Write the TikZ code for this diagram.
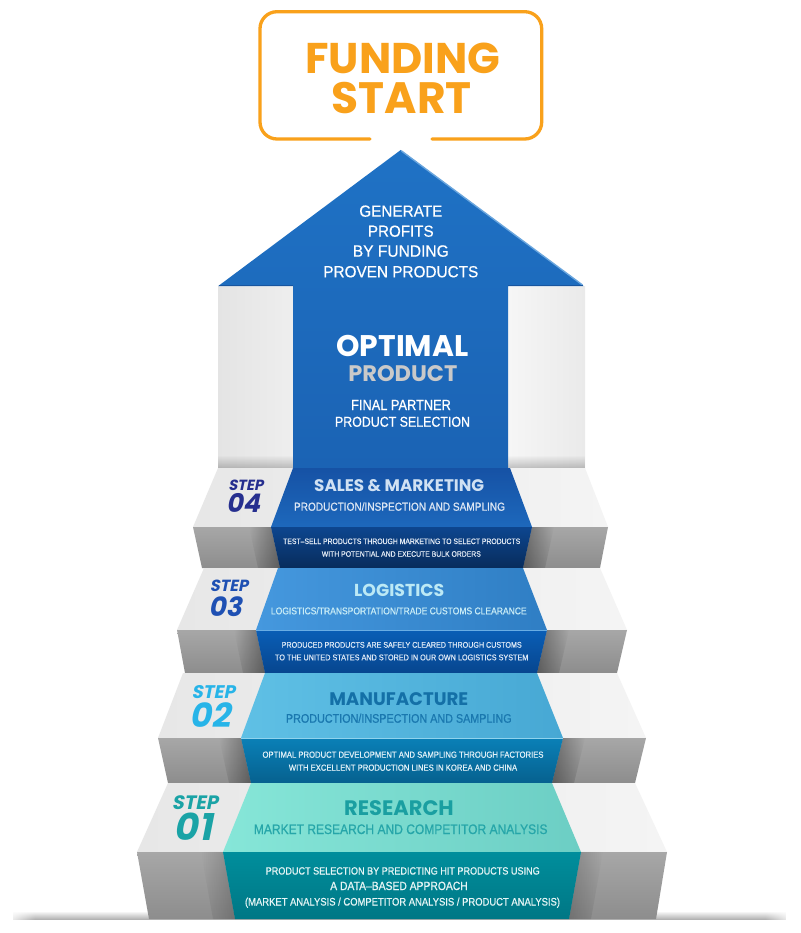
\documentclass[tikz,border=0pt]{standalone}
\usepackage{fontspec}
\usepackage{graphicx}
\usetikzlibrary{fadings}
\setmainfont{Liberation Sans}
\newfontfamily\nsf{Liberation Sans}[FakeStretch=0.87,FakeBold=0.7]
\newfontfamily\asf{Liberation Sans}[FakeStretch=0.95,FakeBold=0.5]
\newfontfamily\pop{Poppins}
\newfontfamily\popsl{Poppins}[FakeSlant=0.2]
\newcommand\fitw[2]{\resizebox{#1pt}{!}{#2}}
\definecolor{orng}{HTML}{F9A11B}
\definecolor{arrT}{HTML}{1F72C5}
\definecolor{arrB}{HTML}{1B63B4}
\definecolor{arrhi}{HTML}{6AA6DE}
\definecolor{arrdk}{HTML}{17559F}
\definecolor{colL1}{HTML}{E4E4E4}
\definecolor{colL2}{HTML}{EEEEEE}
\definecolor{colR1}{HTML}{F6F6F6}
\definecolor{colR2}{HTML}{EAEAEA}
\definecolor{gtl}{HTML}{E7E7E7}
\definecolor{gtr}{HTML}{F4F4F4}
\definecolor{gf1}{HTML}{A7A7A7}
\definecolor{gf2}{HTML}{8D8D8D}
\definecolor{shd}{HTML}{A9A9A9}
\definecolor{s4t1}{HTML}{1652A5}
\definecolor{s4t2}{HTML}{1D68BC}
\definecolor{s4f1}{HTML}{0D468F}
\definecolor{s4f2}{HTML}{082C5C}
\definecolor{s3t1}{HTML}{4598DE}
\definecolor{s3t2}{HTML}{2F7EC4}
\definecolor{s3f1}{HTML}{0A5EB6}
\definecolor{s3f2}{HTML}{07468F}
\definecolor{s2t1}{HTML}{5FC0E5}
\definecolor{s2t2}{HTML}{47A8D4}
\definecolor{s2f1}{HTML}{0A80B7}
\definecolor{s2f2}{HTML}{06618F}
\definecolor{s1t1}{HTML}{86E6D8}
\definecolor{s1t2}{HTML}{6CCEC4}
\definecolor{s1f1}{HTML}{008E9C}
\definecolor{s1f2}{HTML}{007785}
\definecolor{lab4}{HTML}{262F8F}
\definecolor{lab3}{HTML}{1E50B3}
\definecolor{lab2}{HTML}{27B4E8}
\definecolor{lab1}{HTML}{1AA3A6}
\definecolor{ti4}{HTML}{D0E1F3}
\definecolor{su4}{HTML}{DCE6F3}
\definecolor{de4}{HTML}{E2EAF4}
\definecolor{ti3}{HTML}{BCE9F5}
\definecolor{su3}{HTML}{C8ECF6}
\definecolor{de3}{HTML}{DCE8F6}
\definecolor{ti2}{HTML}{1470A7}
\definecolor{su2}{HTML}{1A78AF}
\definecolor{de2}{HTML}{E0F0F7}
\definecolor{ti1}{HTML}{1A9FA1}
\definecolor{su1}{HTML}{26A6A9}
\definecolor{de1}{HTML}{E6F5F5}
\definecolor{prodgray}{HTML}{C9C9C9}
\tikzfading[name=opaqueright, left color=transparent!100, right color=transparent!0]
\tikzfading[name=opaqueleft, left color=transparent!0, right color=transparent!100]
\tikzfading[name=opaquebottom, top color=transparent!100, bottom color=transparent!0]
\begin{document}
\begin{tikzpicture}[x=1pt,y=-1pt,
  txt/.style={inner sep=0pt,outer sep=0pt,anchor=base},
  fadeR/.style={black,opacity=.35,path fading=opaqueright},
  fadeL/.style={black,opacity=.35,path fading=opaqueleft},
  gtop/.style={left color=gtl,right color=gtr},
  gfront/.style={top color=gf1,bottom color=gf2}]
\useasboundingbox (0,0) rectangle (800,933);
\fill[white] (0,0) rectangle (800,933);

% top box
\draw[orng, line width=3.3, rounded corners=17, line cap=round]
  (370,139) -- (260,139) -- (260,11.7) -- (541.7,11.7) -- (541.7,139) -- (432,139);
\node[txt,text=orng] (funding) at (403,73.3) {\fitw{195}{\pop\bfseries FUNDING}};
\node[txt,text=orng] (start) at (401.7,113.3) {\fitw{140}{\pop\bfseries START}};

% bottom shadow line
\fill[shd, path fading=opaquebottom] (13,911) rectangle (787,920);
\fill[white, path fading=opaqueleft] (5,908) rectangle (35,922);
\fill[white, path fading=opaqueright] (765,908) rectangle (795,922);

% columns
\shade[left color=colL1,right color=colL2] (218,286) rectangle (293,468);
\shade[left color=colR1,right color=colR2] (508,286) rectangle (585,468);
\fill[black,opacity=.22,path fading=opaquebottom] (218,455) rectangle (293,468);
\fill[black,opacity=.22,path fading=opaquebottom] (508,455) rectangle (585,468);

% arrow
\shade[top color=arrT,bottom color=arrB] (400.7,150) -- (583.5,286) -- (508,286) -- (508,468)
  -- (293,468) -- (293,286) -- (218.3,286) -- cycle;
\draw[arrhi,line width=1.4] (401.5,151) -- (582.5,285);
\draw[arrdk,line width=1.4] (219,285.5) -- (293,285.5) (508,285.5) -- (582.5,285.5);

% step 04
\shade[gtop] (218,468) -- (585,468) -- (608,527) -- (193,527) -- cycle;
\shade[gfront] (193,527) -- (608,527) -- (600,568) -- (202,568) -- cycle;
\fill[fadeR] (249,527) -- (271,527) -- (280,568) -- (258,568) -- cycle;
\fill[fadeL] (532,527) -- (554,527) -- (545,568) -- (523,568) -- cycle;
\shade[top color=s4t1,bottom color=s4t2] (293,468) -- (510,468) -- (532,527) -- (271,527) -- cycle;
\shade[top color=s4f1,bottom color=s4f2] (271,527) -- (532,527) -- (523,568) -- (280,568) -- cycle;

% step 03
\shade[gtop] (204,568) -- (600,568) -- (627,630) -- (177,630) -- cycle;
\shade[gfront] (177,630) -- (627,630) -- (617,673) -- (185,673) -- cycle;
\fill[fadeR] (234,630) -- (256,630) -- (265,673) -- (243,673) -- cycle;
\fill[fadeL] (547,630) -- (569,630) -- (559,673) -- (537,673) -- cycle;
\shade[left color=s3t1,right color=s3t2] (278,568) -- (523,568) -- (547,630) -- (256,630) -- cycle;
\shade[top color=s3f1,bottom color=s3f2] (256,630) -- (547,630) -- (537,673) -- (265,673) -- cycle;
\draw[s3t1!80!white,line width=0.8] (256,630) -- (547,630);

% step 02
\shade[gtop] (183,673) -- (617,673) -- (646,738) -- (158,738) -- cycle;
\shade[gfront] (158,738) -- (646,738) -- (635,783) -- (168,783) -- cycle;
\fill[fadeR] (219,738) -- (241,738) -- (251,783) -- (229,783) -- cycle;
\fill[fadeL] (563,738) -- (585,738) -- (574,783) -- (552,783) -- cycle;
\shade[left color=s2t1,right color=s2t2] (265,673) -- (537,673) -- (563,738) -- (241,738) -- cycle;
\shade[top color=s2f1,bottom color=s2f2] (241,738) -- (563,738) -- (552,783) -- (251,783) -- cycle;
\draw[s2t1!70!white,line width=0.6] (241,738) -- (563,738);

% step 01
\shade[gtop] (168,783) -- (635,783) -- (667,852) -- (137,852) -- cycle;
\shade[gfront] (137,852) -- (667,852) -- (656,919) -- (149,919) -- cycle;
\fill[fadeR,opacity=.2] (201,852) -- (223,852) -- (235,919) -- (213,919) -- cycle;
\fill[fadeL,opacity=.2] (581,852) -- (603,852) -- (591,919) -- (569,919) -- cycle;
\shade[left color=s1t1,right color=s1t2] (251,783) -- (552,783) -- (581,852) -- (223,852) -- cycle;
\shade[top color=s1f1,bottom color=s1f2] (223,852) -- (581,852) -- (569,919) -- (235,919) -- cycle;

% arrow texts
\node[txt,text=white] (gen) at (400.8,216.7) {\fitw{83}{\asf GENERATE}};
\node[txt,text=white] (prof) at (400.8,236.7) {\fitw{65.7}{\asf PROFITS}};
\node[txt,text=white] (byf) at (400.8,256.7) {\fitw{96}{\asf BY FUNDING}};
\node[txt,text=white] (prov) at (400.8,277.3) {\fitw{155}{\asf PROVEN PRODUCTS}};
\node[txt,text=white] (optimal) at (402.5,356) {\fitw{132}{\pop\bfseries OPTIMAL}};
\node[txt,text=prodgray] (product) at (402.8,381.7) {\fitw{109}{\pop\bfseries PRODUCT}};
\node[txt,text=white] (final) at (401,410) {\fitw{99.7}{\nsf FINAL PARTNER}};
\node[txt,text=white] (psel) at (402.5,426.7) {\fitw{135}{\nsf PRODUCT SELECTION}};

% step 04 texts
\node[txt,text=lab4] (st4) at (245.8,490) {\fitw{35}{\popsl\bfseries STEP}};
\node[txt,text=lab4] (n4) at (243,512.3) {\fitw{34}{\popsl\bfseries 04}};
\node[txt,text=ti4] (t4) at (399.2,491.7) {\fitw{170}{\pop\bfseries SALES \& MARKETING}};
\node[txt,text=su4] (u4) at (399.5,510.7) {\fitw{211}{\nsf PRODUCTION/INSPECTION AND SAMPLING}};
\node[txt,text=de4] (d4a) at (401.7,544) {\fitw{237}{\nsf TEST–SELL PRODUCTS THROUGH MARKETING TO SELECT PRODUCTS}};
\node[txt,text=de4] (d4b) at (401.3,556.7) {\fitw{159}{\nsf WITH POTENTIAL AND EXECUTE BULK ORDERS}};

% step 03 texts
\node[txt,text=lab3] (st3) at (229,591.7) {\fitw{38.3}{\popsl\bfseries STEP}};
\node[txt,text=lab3] (n3) at (225,616.7) {\fitw{33.3}{\popsl\bfseries 03}};
\node[txt,text=ti3] (t3) at (399.2,596) {\fitw{90}{\pop\bfseries LOGISTICS}};
\node[txt,text=su3] (u3) at (398.8,614.3) {\fitw{255.7}{\nsf LOGISTICS/TRANSPORTATION/TRADE CUSTOMS CLEARANCE}};
\node[txt,text=de3] (d3a) at (401.7,647.7) {\fitw{240}{\nsf PRODUCED PRODUCTS ARE SAFELY CLEARED THROUGH CUSTOMS}};
\node[txt,text=de3] (d3b) at (401.7,660.3) {\fitw{253.3}{\nsf TO THE UNITED STATES AND STORED IN OUR OWN LOGISTICS SYSTEM}};

% step 02 texts
\node[txt,text=lab2] (st2) at (213.3,698.3) {\fitw{43.3}{\popsl\bfseries STEP}};
\node[txt,text=lab2] (n2) at (210.3,727.3) {\fitw{40.7}{\popsl\bfseries 02}};
\node[txt,text=ti2] (t2) at (398.8,705) {\fitw{139}{\pop\bfseries MANUFACTURE}};
\node[txt,text=su2] (u2) at (398.8,722.7) {\fitw{225.7}{\nsf PRODUCTION/INSPECTION AND SAMPLING}};
\node[txt,text=de2] (d2a) at (403,757.7) {\fitw{281}{\nsf OPTIMAL PRODUCT DEVELOPMENT AND SAMPLING THROUGH FACTORIES}};
\node[txt,text=de2] (d2b) at (403,770.7) {\fitw{228.3}{\nsf WITH EXCELLENT PRODUCTION LINES IN KOREA AND CHINA}};

% step 01 texts
\node[txt,text=lab1] (st1) at (195,809) {\fitw{46}{\popsl\bfseries STEP}};
\node[txt,text=lab1] (n1) at (193,840) {\fitw{38}{\popsl\bfseries 01}};
\node[txt,text=ti1] (t1) at (399,815) {\fitw{109.6}{\pop\bfseries RESEARCH}};
\node[txt,text=su1] (u1) at (400.7,834) {\fitw{293.6}{\nsf MARKET RESEARCH AND COMPETITOR ANALYSIS}};
\node[txt,text=de1] (d1a) at (402.7,874.5) {\fitw{274}{\nsf PRODUCT SELECTION BY PREDICTING HIT PRODUCTS USING}};
\node[txt,text=de1] (d1b) at (399,890) {\fitw{137.5}{\nsf A DATA–BASED APPROACH}};
\node[txt,text=de1] (d1c) at (402.5,905.5) {\fitw{315}{\nsf (MARKET ANALYSIS / COMPETITOR ANALYSIS / PRODUCT ANALYSIS)}};
\end{tikzpicture}
\end{document}
